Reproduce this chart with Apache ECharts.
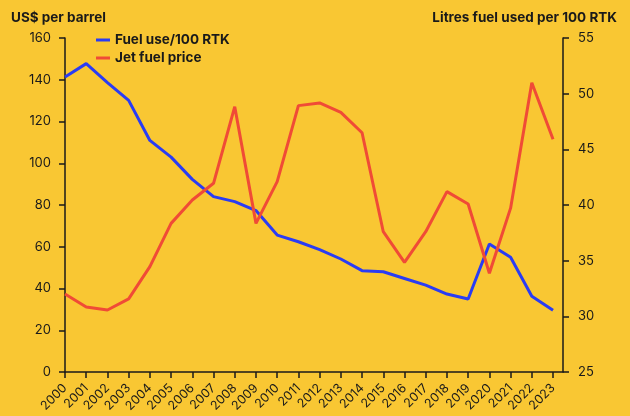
<!DOCTYPE html>
<html>
<head>
<meta charset="utf-8">
<script src="https://cdn.jsdelivr.net/npm/echarts@6/dist/echarts.min.js"></script>
<style>
  html, body { margin: 0; padding: 0; background: #F9C733; }
  #chart { width: 630px; height: 416px; }
</style>
</head>
<body>
<div id="chart"></div>
<script>
// --- DATEN ---
const years = [2000, 2001, 2002, 2003, 2004, 2005, 2006, 2007, 2008, 2009, 2010, 2011,
               2012, 2013, 2014, 2015, 2016, 2017, 2018, 2019, 2020, 2021, 2022, 2023];
// Litres fuel used per 100 RTK (right axis)
const fuelUse = [51.5, 52.7, 51.0, 49.4, 45.8, 44.3, 42.3, 40.75, 40.3, 39.5, 37.3, 36.7,
                 36.0, 35.15, 34.1, 34.0, 33.4, 32.8, 32.0, 31.55, 36.5, 35.3, 31.8, 30.55];
// Jet fuel price, US$ per barrel (left axis)
const jetPrice = [37.4, 31.1, 29.7, 35.0, 50.5, 71.2, 82.4, 90.4, 127.1, 71.2, 91.2, 127.6,
                  128.9, 124.4, 114.6, 67.2, 52.5, 67.2, 86.4, 80.5, 47.3, 78.5, 138.6, 111.5];

const FONT = 'Inter';
const INK = '#1a1a1a';

const chart = echarts.init(document.getElementById('chart'));

const axisCommon = {
    axisLine: { show: true, lineStyle: { color: INK, width: 1.5 } },
    axisTick: { show: true, length: 6, lineStyle: { color: INK, width: 1.5 } },
    splitLine: { show: false },
    axisLabel: { color: INK, fontFamily: FONT, fontSize: 13 }
};

chart.setOption({
    backgroundColor: '#F9C733',
    animation: false,
    textStyle: { fontFamily: FONT },
    title: [
        { text: 'US$ per barrel', left: 6, top: 6,
          textStyle: { fontSize: 13.5, fontWeight: 'bold', color: INK, fontFamily: FONT } },
        { text: 'Litres fuel used per 100 RTK', right: 8, top: 6,
          textStyle: { fontSize: 13.5, fontWeight: 'bold', color: INK, fontFamily: FONT } }
    ],
    legend: {
        orient: 'vertical',
        left: 91, top: 28,
        itemWidth: 14, itemHeight: 3, itemGap: 4,
        icon: 'rect',
        textStyle: { fontSize: 13.5, fontWeight: 'bold', color: INK, fontFamily: FONT },
        data: ['Fuel use/100 RTK', 'Jet fuel price']
    },
    grid: { left: 65, right: 67, top: 38, bottom: 44 },
    xAxis: {
        type: 'value',
        min: 2000, max: 2023.47,
        ...axisCommon,
        axisTick: { ...axisCommon.axisTick, customValues: years },
        axisLabel: { ...axisCommon.axisLabel, fontSize: 12.5, rotate: 45, margin: 14,
                     customValues: years, formatter: v => String(v) }
    },
    yAxis: [
        { type: 'value', min: 0, max: 160, interval: 20, position: 'left', ...axisCommon,
          axisLabel: { ...axisCommon.axisLabel, margin: 14 } },
        { type: 'value', min: 25, max: 55, interval: 5, position: 'right', ...axisCommon,
          axisLabel: { ...axisCommon.axisLabel, margin: 15 } }
    ],
    series: [
        { name: 'Fuel use/100 RTK', type: 'line', yAxisIndex: 1, showSymbol: false,
          color: '#2A3CF4', lineStyle: { width: 3 },
          data: years.map((y, i) => [y, fuelUse[i]]) },
        { name: 'Jet fuel price', type: 'line', yAxisIndex: 0, showSymbol: false,
          color: '#F04B36', lineStyle: { width: 3 },
          data: years.map((y, i) => [y, jetPrice[i]]) }
    ]
});

window.addEventListener('resize', () => chart.resize());
</script>
</body>
</html>
